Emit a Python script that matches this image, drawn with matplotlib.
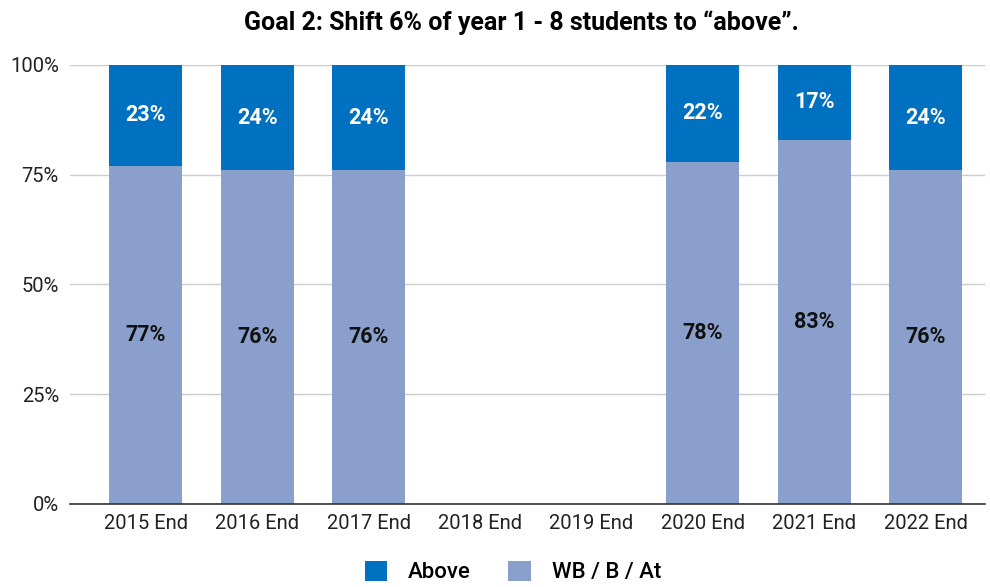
import matplotlib.pyplot as plt

plt.rcParams['font.family'] = ['Roboto', 'DejaVu Sans']

# Data
years = ["2015 End", "2016 End", "2017 End", "2018 End", "2019 End",
         "2020 End", "2021 End", "2022 End"]
wb_b_at = [77, 76, 76, 0, 0, 78, 83, 76]
above = [23, 24, 24, 0, 0, 22, 17, 24]

c_above = '#0070C0'
c_wb = '#8A9FCB'

fig = plt.figure(figsize=(9.9, 5.87), dpi=100)
ax = fig.add_axes([0.0707, 0.1414, 0.924, 0.748])

x = range(len(years))
ax.bar(x, wb_b_at, width=0.655, color=c_wb, label='WB / B / At', zorder=2)
ax.bar(x, above, width=0.655, bottom=wb_b_at, color=c_above, label='Above', zorder=2)

for i in x:
    if wb_b_at[i] > 0:
        ax.text(i, wb_b_at[i] / 2, f"{wb_b_at[i]}%", ha='center', va='center',
                fontsize=15.5, fontweight='bold', color='#111111')
    if above[i] > 0:
        ax.text(i, wb_b_at[i] + above[i] / 2, f"{above[i]}%", ha='center', va='center',
                fontsize=15.5, fontweight='bold', color='white')

ax.set_xlim(-0.68, 7.53)
ax.set_ylim(0, 100)
ax.set_yticks([0, 25, 50, 75, 100])
ax.set_yticklabels(["0%", "25%", "50%", "75%", "100%"])
ax.set_xticks(list(x))
ax.set_xticklabels(years)
ax.tick_params(axis='both', length=0, labelsize=14.5, colors='#222222')
ax.tick_params(axis='y', pad=8)
ax.tick_params(axis='x', pad=7)

ax.grid(axis='y', color='#cccccc', linewidth=1, zorder=0)
for s in ['top', 'right', 'left']:
    ax.spines[s].set_visible(False)
ax.spines['bottom'].set_color('#333333')
ax.spines['bottom'].set_linewidth(1.2)
ax.spines['bottom'].set_zorder(3)

fig.text(0.527, 0.962, 'Goal 2: Shift 6% of year 1 - 8 students to \u201cabove\u201d.',
         ha='center', va='center', fontsize=18, fontweight='bold')

h, l = ax.get_legend_handles_labels()
fig.legend(h[::-1], l[::-1], loc='lower center', bbox_to_anchor=(0.518, -0.028),
           ncol=2, frameon=False, handlelength=1.0, handleheight=1.0,
           handletextpad=0.95, columnspacing=1.7,
           prop={'weight': 'medium', 'size': 16})

fig.savefig('out.png', dpi=100)
